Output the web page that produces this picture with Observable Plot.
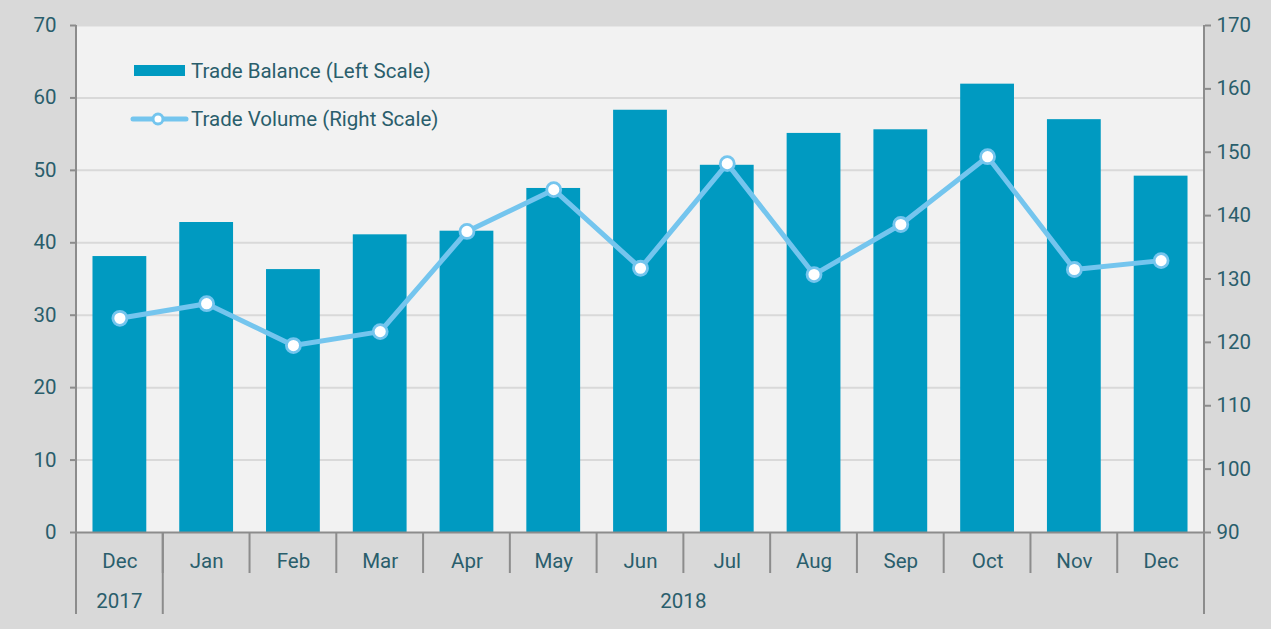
<!DOCTYPE html>
<html><head><meta charset="utf-8">
<script src="https://cdn.jsdelivr.net/npm/d3@7"></script>
<script src="https://cdn.jsdelivr.net/npm/@observablehq/plot@0.6"></script>
<style>
html,body{margin:0;padding:0;background:#d9d9d9;overflow:hidden;}
#chart{width:1271px;height:629px;}
</style></head><body><div id="chart"></div>
<script>
// ---- data ----
const months = ["Dec","Jan","Feb","Mar","Apr","May","Jun","Jul","Aug","Sep","Oct","Nov","Dec"];
const years = ["2017","2018"];
const yearMonths = [1, 12];
const balance = [38.1, 42.8, 36.3, 41.1, 41.6, 47.5, 58.3, 50.7, 55.1, 55.6, 61.9, 57.0, 49.2];
const volume = [123.8, 126.1, 119.5, 121.7, 137.5, 144.1, 131.7, 148.2, 130.7, 138.6, 149.3, 131.5, 132.9];
const leftTicks = [0, 10, 20, 30, 40, 50, 60, 70];
const rightTicks = [90, 100, 110, 120, 130, 140, 150, 160, 170];
const seriesNames = ["Trade Balance (Left Scale)", "Trade Volume (Right Scale)"];

const leftDomain = [0, 70], rightDomain = [90, 170];
const toLeft = v => leftDomain[0] + (v - rightDomain[0]) * (leftDomain[1] - leftDomain[0]) / (rightDomain[1] - rightDomain[0]);
const fromLeft = v => rightDomain[0] + (v - leftDomain[0]) * (rightDomain[1] - rightDomain[0]) / (leftDomain[1] - leftDomain[0]);

const data = months.map((m, i) => ({i, m, balance: balance[i], volume: volume[i]}));

const barColor = "#009ac1", lineColor = "#74c5ee", textColor = "#2a5e6c", axisColor = "#8c8c8c";
const FONT = "Roboto, sans-serif";
const FS = 20.5;

const chart = Plot.plot({
  width: 1271, height: 629,
  marginLeft: 76, marginRight: 67, marginTop: 25, marginBottom: 97,
  style: {background: "transparent", fontFamily: FONT, fontSize: FS + "px", color: textColor},
  x: {type: "band", domain: d3.range(months.length), paddingInner: 0.38, paddingOuter: 0.19, round: false},
  y: {domain: leftDomain},
  marks: [
    Plot.frame({fill: "#f2f2f2", stroke: null}),
    Plot.gridY(leftTicks.slice(1), {stroke: "#d9d9d9", strokeOpacity: 1, strokeWidth: 2}),
    Plot.barY(data, {x: "i", y: "balance", fill: barColor}),
    Plot.line(data, {x: "i", y: d => toLeft(d.volume), stroke: lineColor, strokeWidth: 5}),
    Plot.dot(data, {x: "i", y: d => toLeft(d.volume), r: 7, fill: "white", stroke: lineColor, strokeWidth: 2.8}),
    Plot.ruleY([0], {stroke: axisColor, strokeWidth: 2}),
    Plot.axisY({ticks: leftTicks, tickSize: 6, tickPadding: 14, stroke: axisColor, strokeWidth: 2, fill: textColor, label: null, fontSize: FS}),
    Plot.axisY({anchor: "right", ticks: rightTicks.map(toLeft), tickFormat: d => String(Math.round(fromLeft(d))), tickSize: 6, tickPadding: 6, stroke: axisColor, strokeWidth: 2, fill: textColor, label: null, fontSize: FS}),
    Plot.axisX({tickSize: 0, tickPadding: 21, tickFormat: i => months[i], fill: textColor, label: null, fontSize: FS})
  ]
});

const svg = d3.select(chart);
const xs = chart.scale("x"), ys = chart.scale("y");
const gap = (xs.step - xs.bandwidth) / 2;
const boundary = k => k < months.length ? xs.apply(k) - gap : xs.apply(months.length - 1) + xs.bandwidth + gap;
const yTop = ys.apply(leftDomain[1]), y0 = ys.apply(0);
const rowH = 41;
const g = svg.append("g").attr("stroke", axisColor).attr("stroke-width", 2);
// month separators
for (let k = 1; k < months.length; k++) {
  g.append("line").attr("x1", boundary(k)).attr("x2", boundary(k)).attr("y1", y0).attr("y2", y0 + rowH);
}
// year separators
let acc = 0;
const yearBounds = [0];
yearMonths.forEach(n => { acc += n; yearBounds.push(acc); });
yearBounds.forEach(k => {
  g.append("line").attr("x1", boundary(k)).attr("x2", boundary(k)).attr("y1", k === 0 || k === months.length ? yTop : y0).attr("y2", y0 + 2 * rowH);
});
// year labels
const tg = svg.append("g").attr("font-family", FONT).attr("font-size", FS).attr("fill", textColor).attr("text-anchor", "middle");
years.forEach((yr, j) => {
  const cx = (boundary(yearBounds[j]) + boundary(yearBounds[j + 1])) / 2;
  tg.append("text").attr("x", cx).attr("y", y0 + rowH + 28).attr("dy", "0.35em").text(yr);
});
// legend
const lg = svg.append("g").attr("font-family", FONT).attr("font-size", FS).attr("fill", textColor).attr("text-anchor", "start");
lg.append("rect").attr("x", 134).attr("y", 65).attr("width", 51).attr("height", 11).attr("fill", barColor);
lg.append("text").attr("x", 191).attr("y", 71).attr("dy", "0.35em").text(seriesNames[0]);
lg.append("line").attr("x1", 133).attr("x2", 186).attr("y1", 119).attr("y2", 119).attr("stroke", lineColor).attr("stroke-width", 5).attr("stroke-linecap", "round");
lg.append("circle").attr("cx", 158).attr("cy", 119).attr("r", 5).attr("fill", "white").attr("stroke", lineColor).attr("stroke-width", 3);
lg.append("text").attr("x", 191).attr("y", 119).attr("dy", "0.35em").text(seriesNames[1]);

document.getElementById("chart").appendChild(chart);
</script>
</body></html>
